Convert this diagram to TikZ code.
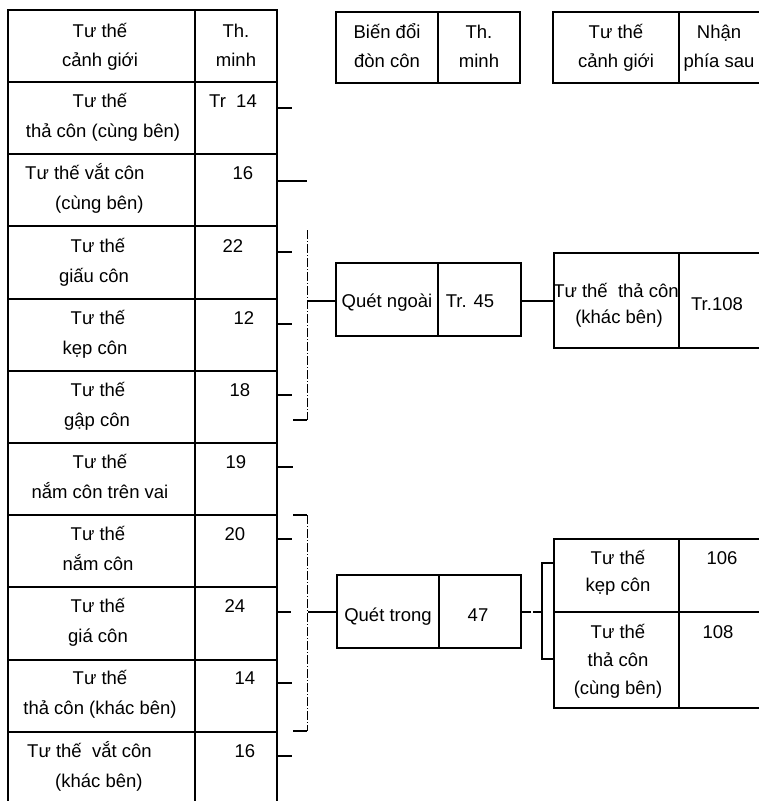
\documentclass[tikz,border=0pt]{standalone}
\usepackage{fontspec}
\setmainfont{Liberation Sans}
\begin{document}
\begin{tikzpicture}[x=1pt,y=-1pt,
  cell/.style={draw, line width=1.9pt, inner sep=0pt, outer sep=0pt, anchor=north west},
  txt/.style={anchor=base, inner sep=0pt, font=\fontsize{18.5}{22}\selectfont},
  ltxt/.style={anchor=base west, inner sep=0pt, font=\fontsize{18.5}{22}\selectfont},
  stub/.style={line width=1.7pt},
  dline/.style={line width=1pt, dash pattern=on 9pt off 2pt on 1pt off 2pt}]
\useasboundingbox (0,0) rectangle (759,801);
\clip (0,0) rectangle (759,801);
\fill[white] (0,0) rectangle (759,801);

% ---------- left table ----------
\def\rh{72.2}
\node[cell, minimum width=187pt, minimum height=72pt] (h1) at (8,10) {};
\node[cell, minimum width=82pt, minimum height=72pt] (h2) at (195,10) {};
\node[txt] (h1a) at (100,37) {Tư thế};
\node[txt] (h1b) at (100,66) {cảnh giới};
\node[txt] (h2a) at (236,37) {Th.};
\node[txt] (h2b) at (236,66) {minh};

\foreach \i in {1,...,10}{
  \pgfmathsetmacro{\yy}{82+(\i-1)*\rh}
  \node[cell, minimum width=187pt, minimum height=72.2pt] (a\i) at (8,\yy) {};
  \node[cell, minimum width=82pt, minimum height=72.2pt] (b\i) at (195,\yy) {};
}

% row texts
\node[txt] (t1a) at (100,107) {Tư thế};
\node[txt] (t1b) at (103,137) {thả côn (cùng bên)};
\node[txt] (n1) at (233,107) {Tr\ \ 14};

\node[ltxt] (t2a) at (25,179) {Tư thế vắt côn};
\node[ltxt] (t2b) at (55,209) {(cùng bên)};
\node[txt] (n2) at (243,179) {16};

\node[txt] (t3a) at (98,252) {Tư thế};
\node[txt] (t3b) at (94,282) {giấu côn};
\node[txt] (n3) at (233,252) {22};

\node[txt] (t4a) at (98,324) {Tư thế};
\node[txt] (t4b) at (95,354) {kẹp côn};
\node[txt] (n4) at (244,324) {12};

\node[txt] (t5a) at (98,396) {Tư thế};
\node[txt] (t5b) at (97,426) {gập côn};
\node[txt] (n5) at (240,396) {18};

\node[txt] (t6a) at (100,468) {Tư thế};
\node[txt] (t6b) at (100,498) {nắm côn trên vai};
\node[txt] (n6) at (236,468) {19};

\node[txt] (t7a) at (98,540) {Tư thế};
\node[txt] (t7b) at (98,570) {nắm côn};
\node[txt] (n7) at (235,540) {20};

\node[txt] (t8a) at (98,612) {Tư thế};
\node[txt] (t8b) at (98,642) {giá côn};
\node[txt] (n8) at (235,612) {24};

\node[txt] (t9a) at (100,684) {Tư thế};
\node[txt] (t9b) at (100,714) {thả côn (khác bên)};
\node[txt] (n9) at (245,684) {14};

\node[ltxt] (t10a) at (27,757) {Tư thế\ \ vắt côn};
\node[ltxt] (t10b) at (55,787) {(khác bên)};
\node[txt] (n10) at (245,757) {16};

% ---------- top headers right ----------
\node[cell, minimum width=102pt, minimum height=71pt] (g1) at (336,12) {};
\node[cell, minimum width=82pt, minimum height=71pt] (g2) at (438,12) {};
\node[txt] (g1a) at (387,38) {Biến đổi};
\node[txt] (g1b) at (387,67) {đòn côn};
\node[txt] (g2a) at (479,38) {Th.};
\node[txt] (g2b) at (479,67) {minh};

\node[cell, minimum width=126pt, minimum height=71pt] (k1) at (553,12) {};
\node[cell, minimum width=90pt, minimum height=71pt] (k2) at (679,12) {};
\node[txt] (k1a) at (616,38) {Tư thế};
\node[txt] (k1b) at (616,67) {cảnh giới};
\node[txt] (k2a) at (719,38) {Nhận};
\node[txt] (k2b) at (719,67) {phía sau};

% ---------- Quét ngoài ----------
\node[cell, minimum width=102pt, minimum height=73pt] (q1) at (336,263) {};
\node[cell, minimum width=83pt, minimum height=73pt] (q2) at (438,263) {};
\node[txt] (q1t) at (387,307) {Quét ngoài};
\node[txt] (q2t) at (470,307) {Tr. 45};

\node[cell, minimum width=125pt, minimum height=95pt] (r1) at (554,253) {};
\node[cell, minimum width=90pt, minimum height=95pt] (r2) at (679,253) {};
\node[txt] (r1a) at (616,297) {Tư thế\ \ thả côn};
\node[txt] (r1b) at (619,323) {(khác bên)};
\node[txt] (r2t) at (717,310) {Tr.108};

% ---------- Quét trong ----------
\node[cell, minimum width=102pt, minimum height=73pt] (p1) at (337,575) {};
\node[cell, minimum width=82pt, minimum height=73pt] (p2) at (439,575) {};
\node[txt] (p1t) at (388,621) {Quét trong};
\node[txt] (p2t) at (478,621) {47};

\node[cell, minimum width=125pt, minimum height=73pt] (s1) at (554,539) {};
\node[cell, minimum width=90pt, minimum height=73pt] (s2) at (679,539) {};
\node[cell, minimum width=125pt, minimum height=96pt] (s3) at (554,612) {};
\node[cell, minimum width=90pt, minimum height=96pt] (s4) at (679,612) {};
\node[txt] (s1a) at (618,564) {Tư thế};
\node[txt] (s1b) at (618,591) {kẹp côn};
\node[txt] (s2t) at (722,564) {106};
\node[txt] (s3a) at (618,638) {Tư thế};
\node[txt] (s3b) at (618,666) {thả côn};
\node[txt] (s3c) at (618,694) {(cùng bên)};
\node[txt] (s4t) at (718,638) {108};

% ---------- connectors ----------
\coordinate (u1) at (307,230);
\coordinate (u2) at (307,420);
\coordinate (u3) at (293,420);
\coordinate (uq) at (307,301);
\coordinate (l0) at (293,515);
\coordinate (l1) at (307,515);
\coordinate (l2) at (307,731);
\coordinate (l3) at (293,731);
\coordinate (lq) at (308,612);
\coordinate (br1) at (542,563);
\coordinate (br2) at (542,659);
\coordinate (brm) at (542,612);

\draw[stub] (b1.east |- 0,108) -- +(15,0);
\draw[stub] (b2.east |- 0,181) -- +(30,0);
\draw[stub] (b3.east |- 0,252) -- +(15,0);
\draw[stub] (b4.east |- 0,324) -- +(15,0);
\draw[stub] (b5.east |- 0,395) -- +(15,0);
\draw[stub] (b6.east |- 0,467) -- +(16,0);
\draw[stub] (b7.east |- 0,539) -- +(15,0);
\draw[stub] (b8.east |- 0,612) -- +(14,0);
\draw[stub] (b9.east |- 0,683) -- +(15,0);
\draw[stub] (b10.east |- 0,756) -- +(15,0);

\draw[dline] (u1) -- (u2);
\draw[stub] (u2) -- (u3);
\draw[line width=1.3pt] (uq) -- (q1.west |- uq);
\draw[line width=1.3pt] (q2.east |- uq) -- (r1.west |- uq);

\draw[stub] (l0) -- (l1);
\draw[dline] (l1) -- (l2);
\draw[stub] (l2) -- (l3);
\draw[line width=1.3pt] (lq) -- (p1.west |- lq);

\draw[line width=1.3pt, dash pattern=on 10pt off 2pt] (p2.east |- brm) -- (brm);
\draw[line width=1.7pt] (s1.west |- br1) -- (br1) -- (br2) -- (s3.west |- br2);
\end{tikzpicture}
\end{document}
